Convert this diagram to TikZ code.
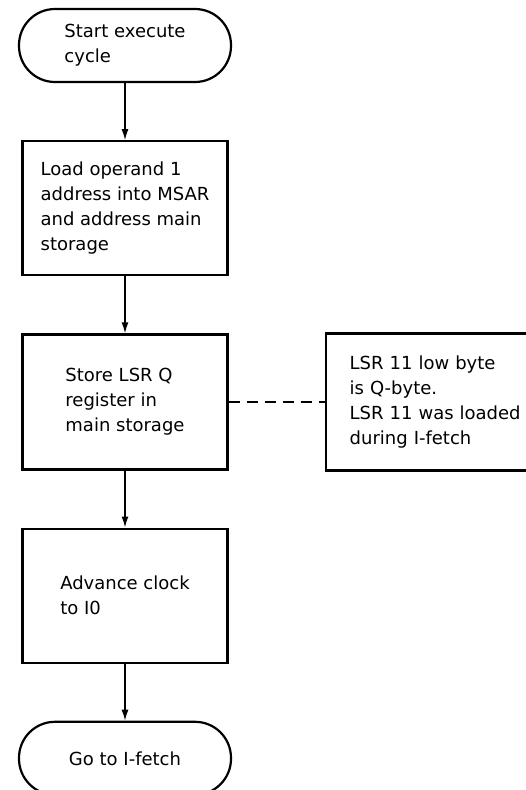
\documentclass[tikz,border=0pt]{standalone}
\usepackage{fontspec}
\setmainfont{DejaVu Sans}
\usetikzlibrary{positioning,arrows.meta}

\begin{document}
\begin{tikzpicture}[
    x=1pt, y=1pt,
    node distance=57pt and 96pt,
    box/.style={rectangle, draw, line width=2.2pt, minimum width=205pt, minimum height=134pt, align=left, font=\fontsize{18}{25}\selectfont},
    terminal/.style={box, rounded corners=36pt, minimum width=212pt, minimum height=73pt},
    notebox/.style={box, minimum width=228pt, minimum height=137pt, text width=180pt},
    arrow/.style={-{Latex[length=11pt,width=7pt]}, line width=1.4pt},
    link/.style={line width=1.8pt, dash pattern=on 11pt off 7pt}
]
\useasboundingbox (0,0) rectangle (526,-790);

% Main column
\node[terminal] (start) at (125,-45.5) {Start execute\\cycle};
\node[box, below=of start] (load) {Load operand 1\\address into MSAR\\and address main\\storage};
\node[box, below=of load, minimum height=135pt] (store) {Store LSR Q\\register in\\main storage};
\node[box, below=of store] (advance) {Advance clock\\to I0};
\node[terminal, below=of advance] (gofetch) {Go to I-fetch};

% Side note
\node[notebox, right=of store] (note) {LSR 11 low byte\\is Q-byte.\\LSR 11 was loaded\\during I-fetch};

% Arrows
\draw[arrow] (start) -- (load);
\draw[arrow] (load) -- (store);
\draw[arrow] (store) -- (advance);
\draw[arrow] (advance) -- (gofetch);

% Note link
\draw[link] (store) -- (note);

\end{tikzpicture}
\end{document}
